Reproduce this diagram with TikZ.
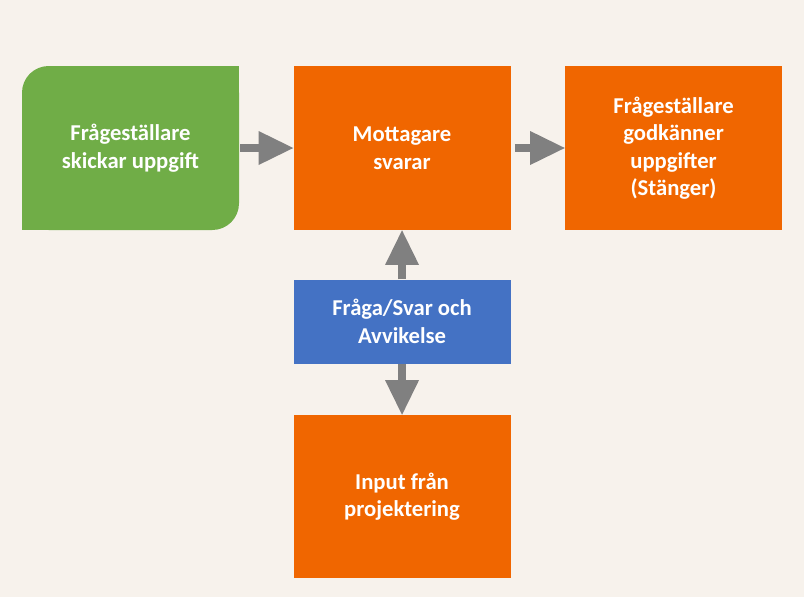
\documentclass[tikz,border=0pt]{standalone}
\usepackage{fontspec}
\setmainfont{Carlito}
\usetikzlibrary{arrows.meta,positioning}

\definecolor{bgbeige}{RGB}{247,242,236}
\definecolor{boxorange}{RGB}{240,102,0}
\definecolor{boxgreen}{RGB}{112,173,71}
\definecolor{boxblue}{RGB}{68,114,196}
\definecolor{arrowgray}{RGB}{128,128,128}

\begin{document}
\begin{tikzpicture}[x=0.75pt,y=-0.75pt,
    node distance=40.5pt]

    \tikzset{task/.style={fill=boxorange, draw=none, text=white, align=center,
        font=\bfseries\fontsize{17pt}{20.6pt}\selectfont,
        minimum width=162.75pt, minimum height=123pt, inner sep=0pt}};
    \tikzset{blockarrow/.style={draw=arrowgray, line width=6pt,
        -{Triangle[length=26pt,width=25.5pt,line width=0pt]}}};

% background
\fill[bgbeige] (0,0) rectangle (804,597);

% top row
\node[task, fill=boxgreen, rounded corners=20pt] (asker) at (130.5,148)
      {Frågeställare\\skickar uppgift};
\fill[boxgreen] (asker.north east) rectangle ++(-24,24);
\fill[boxgreen] (asker.south west) rectangle ++(24,-24);

\node[task, right=of asker] (reply) {Mottagare\\svarar};
\node[task, right=of reply] (approve) {Frågeställare\\godkänner\\uppgifter\\(Stänger)};

% middle and bottom
\node[task, fill=boxblue, minimum height=63pt, below=36.75pt of reply] (qa)
      {Fråga/Svar och\\Avvikelse};
\node[task, minimum height=122.25pt, below=38.25pt of qa] (input)
      {Input från\\projektering};

% arrows
\draw[blockarrow, shorten <=0.75pt] (asker) -- (reply);
\draw[blockarrow, shorten <=3pt] (reply) -- (approve);
\draw[blockarrow] (qa) -- (reply);
\draw[blockarrow] (qa) -- (input);
\end{tikzpicture}
\end{document}
